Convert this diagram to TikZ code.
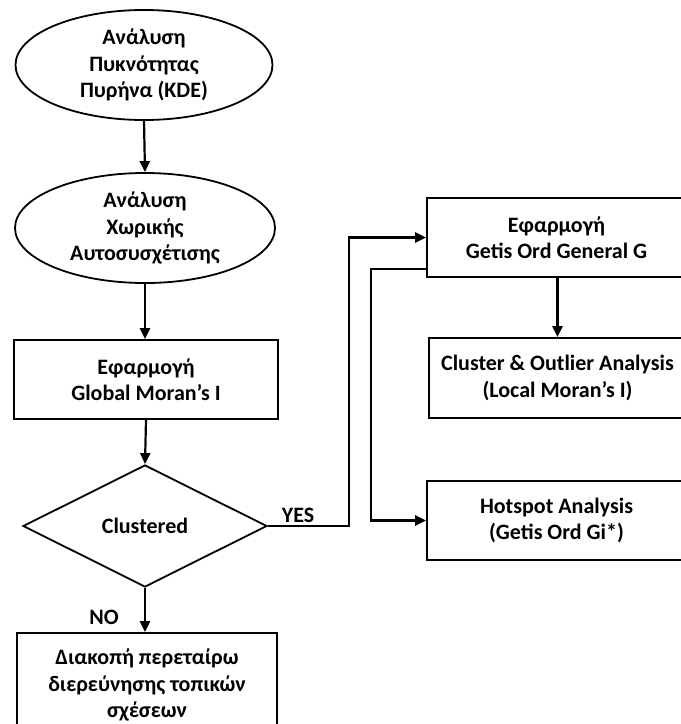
\documentclass[tikz,border=0pt]{standalone}
\usepackage{fontspec}
\setmainfont{Carlito}
\usetikzlibrary{shapes.geometric,arrows.meta,calc}
\tikzset{
  shp/.style={draw=black, line width=1.8pt, inner sep=0pt, align=center, font=\bfseries\fontsize{22}{26.5}\selectfont},
  oval/.style={shp, ellipse},
  boxr/.style={shp, rectangle},
  dia/.style={shp, diamond, aspect=2},
  txt/.style={inner sep=0pt, align=center, font=\bfseries\fontsize{22}{26.5}\selectfont},
  lbl/.style={inner sep=0pt, font=\bfseries\fontsize{22}{26.5}\selectfont},
  conn/.style={line width=2.2pt, -{Triangle[length=11pt,width=10pt]}},
}
\begin{document}
\begin{tikzpicture}[x=1pt,y=-1pt]
\useasboundingbox (0,0) rectangle (681,724);
\clip (0,0) rectangle (681,724);
\fill[white] (0,0) rectangle (681,724);
\node[oval, minimum width=257pt, minimum height=110pt] (e1) at (144,65) {};
\node[txt] (e1t) at (e1.center) {Ανάλυση\\Πυκνότητας\\Πυρήνα (KDE)};
\node[oval, minimum width=260pt, minimum height=110pt] (e2) at (145,228) {};
\node[txt] (e2t) at (e2.center) {Ανάλυση\\Χωρικής\\Αυτοσυσχέτισης};
\node[boxr, minimum width=264pt, minimum height=79pt] (b1) at (146,379.5) {Εφαρμογή\\Global Moran’s I};
\node[dia, minimum width=244pt, minimum height=122pt] (d) at (145,526) {Clustered};
\node[boxr, minimum width=260pt, minimum height=104pt] (b2) at (147,685) {Διακοπή περεταίρω\\διερεύνησης τοπικών\\σχέσεων};
\node[boxr, minimum width=259pt, minimum height=79pt] (g) at (556.5,237.5) {Εφαρμογή\\Getis Ord General G};
\node[boxr, minimum width=257pt, minimum height=80pt] (c) at (557.5,378) {Cluster \& Outlier Analysis\\(Local Moran’s I)};
\node[boxr, minimum width=259pt, minimum height=79pt] (h) at (556.5,520.5) {Hotspot Analysis\\(Getis Ord Gi*)};
\node[lbl] (yes) at (298,515) {YES};
\node[lbl] (no) at (104,617) {NO};
\draw[conn] (e1.south) -- (e2.north);
\draw[conn] (e2.south) -- (b1.north -| e2.south);
\draw[conn] (b1.south) -- (d.north);
\draw[conn] (d.south) -- (b2.north -| d.south);
\draw[conn] (d.east) -- ++(81,0) |- (g.west);
\draw[conn] ([yshift=9pt]g.south west) -- ++(-55,0) |- (h.west);
\draw[conn] (g.south -| c.north) -- (c.north);
\end{tikzpicture}
\end{document}
